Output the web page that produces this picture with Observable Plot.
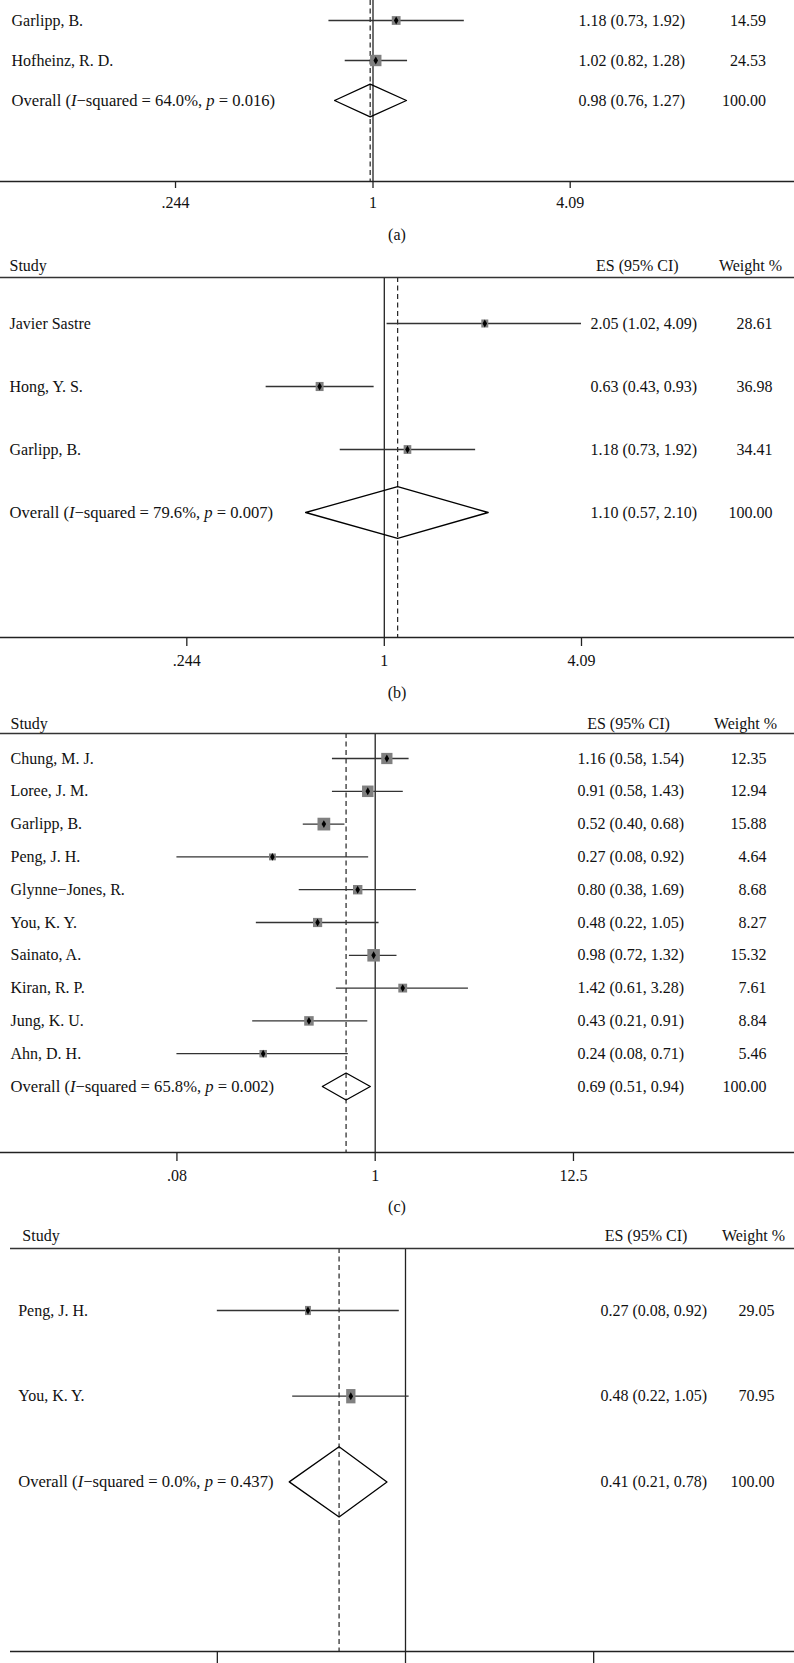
<!DOCTYPE html>
<html><head><meta charset="utf-8">
<script src="https://cdn.jsdelivr.net/npm/d3@7"></script>
<script src="https://cdn.jsdelivr.net/npm/@observablehq/plot@0.6"></script>
<style>
html,body{margin:0;padding:0;overflow:hidden;background:#fff;}
#wrap{position:relative;width:794px;height:1663px;overflow:hidden;background:#fff;}
.panel{position:absolute;left:0;}
.cap{position:absolute;left:0;width:794px;text-align:center;font-family:"Liberation Serif",serif;font-size:16px;line-height:16px;color:#111;}
</style></head><body><div id="wrap"></div>
<script>
// ---------- DATA ----------
// Panel (a) (top part cut off in the reference)
const studiesA = ["Garlipp, B.", "Hofheinz, R. D."];
const esA = [1.18, 1.02];
const lowA = [0.73, 0.82];
const highA = [1.92, 1.28];
const weightA = [14.59, 24.53];
const overallA = {es: 0.98, low: 0.76, high: 1.27, i2: "64.0%", p: "0.016"};

// Panel (b)
const studiesB = ["Javier Sastre", "Hong, Y. S.", "Garlipp, B."];
const esB = [2.05, 0.63, 1.18];
const lowB = [1.02, 0.43, 0.73];
const highB = [4.09, 0.93, 1.92];
const weightB = [28.61, 36.98, 34.41];
const overallB = {es: 1.10, low: 0.57, high: 2.10, i2: "79.6%", p: "0.007"};

// Panel (c)
const studiesC = ["Chung, M. J.", "Loree, J. M.", "Garlipp, B.", "Peng, J. H.", "Glynne\u2212Jones, R.", "You, K. Y.", "Sainato, A.", "Kiran, R. P.", "Jung, K. U.", "Ahn, D. H."];
const esC = [1.16, 0.91, 0.52, 0.27, 0.80, 0.48, 0.98, 1.42, 0.43, 0.24];
const lowC = [0.58, 0.58, 0.40, 0.08, 0.38, 0.22, 0.72, 0.61, 0.21, 0.08];
const highC = [1.54, 1.43, 0.68, 0.92, 1.69, 1.05, 1.32, 3.28, 0.91, 0.71];
const weightC = [12.35, 12.94, 15.88, 4.64, 8.68, 8.27, 15.32, 7.61, 8.84, 5.46];
const overallC = {es: 0.69, low: 0.51, high: 0.94, i2: "65.8%", p: "0.002"};

// Panel (d)
const studiesD = ["Peng, J. H.", "You, K. Y."];
const esD = [0.27, 0.48];
const lowD = [0.08, 0.22];
const highD = [0.92, 1.05];
const weightD = [29.05, 70.95];
const overallD = {es: 0.41, low: 0.21, high: 0.78, i2: "0.0%", p: "0.437"};

// Axis ticks
const ticksAB = [0.244, 1, 4.09];
const tickLabelsAB = [".244", "1", "4.09"];
const ticksCD = [0.08, 1, 12.5];
const tickLabelsCD = [".08", "1", "12.5"];

const headerStudy = "Study", headerES = "ES (95% CI)", headerW = "Weight %";

// ---------- LAYOUT (pixels) ----------
const layouts = [
  {key:"a", top:0, H:250, ml:0, first:20, step:40, lineTop:0, axis:181, header:null, headerLine:null,
   one:372.5, ppl:140, labelX:11, esX:578, wRight:765.6, rmax:11.5, aw:1, ah:1, cap:"(a)", capY:235,
   showTickLabels:true, tickLen:7, tickLabelDy:21,
   ticks:ticksAB, tickLabels:tickLabelsAB, data:[studiesA, esA, lowA, highA, weightA, overallA]},
  {key:"b", top:250, H:440, ml:0, first:73, step:63, lineTop:27, axis:387, header:15, headerLine:27,
   one:383.8, ppl:140, labelX:9, esX:590, wRight:772, hStudy:9, hES:636.8, hW:750, rmax:7.5, aw:0.87, ah:1, cap:"(b)", capY:693,
   showTickLabels:true, tickLen:9, tickLabelDy:23,
   ticks:ticksAB, tickLabels:tickLabelsAB, data:[studiesB, esB, lowB, highB, weightB, overallB]},
  {key:"c", top:705, H:490, ml:0, first:53, step:32.8, lineTop:28, axis:447, header:18, headerLine:28,
   one:374.7, ppl:78.5, labelX:10, esX:577, wRight:766, hStudy:10, hES:628, hW:745, rmax:16, aw:1, ah:1, cap:"(c)", capY:1207,
   showTickLabels:true, tickLen:9, tickLabelDy:23,
   ticks:ticksCD, tickLabels:tickLabelsCD, data:[studiesC, esC, lowC, highC, weightC, overallC]},
  {key:"d", top:1218, H:445, ml:10, first:92, step:85.7, lineTop:30, axis:433, header:17, headerLine:30,
   one:405, ppl:74.5, labelX:17.7, esX:600, wRight:774, hStudy:21.8, hES:645.5, hW:753, rmax:8.5, aw:0.65, ah:1, cap:null,
   showTickLabels:false, tickLen:14, tickLabelDy:23,
   ticks:ticksCD, tickLabels:tickLabelsCD, data:[studiesD, esD, lowD, highD, weightD, overallD]}
];

const FONT = "Liberation Serif";
const fmt = v => v.toFixed(2);

function boxSymbol(aw, ah) {
  return {draw(ctx, size) {
    const r = Math.sqrt(size / Math.PI);
    const w = r * aw, h = r * ah;
    ctx.moveTo(-w, -h); ctx.lineTo(w, -h); ctx.lineTo(w, h); ctx.lineTo(-w, h); ctx.closePath();
  }};
}

function makePanel(L) {
  const [studies, es, low, high, weight, ov] = L.data;
  const rows = studies.map((s, i) => ({study: s, es: es[i], low: low[i], high: high[i], weight: weight[i], i}));
  const oi = rows.length;
  const ovLabel = `Overall (I\u2212squared = ${ov.i2}, p = ${ov.p})`;
  const studyRows = rows.map(d => ({label: d.study, i: d.i}));
  const valueRows = rows.map(d => ({es: `${fmt(d.es)} (${fmt(d.low)}, ${fmt(d.high)})`, w: fmt(d.weight), i: d.i}))
    .concat([{es: `${fmt(ov.es)} (${fmt(ov.low)}, ${fmt(ov.high)})`, w: "100.00", i: oi}]);
  const toRow = px => (px - L.first) / L.step;
  const hh = 0.41;
  const diamond = [
    {x: ov.low, y: oi}, {x: ov.es, y: oi - hh}, {x: ov.high, y: oi}, {x: ov.es, y: oi + hh}, {x: ov.low, y: oi}
  ];
  const tickData = L.ticks.map((v, k) => ({v, label: L.tickLabels[k]}));
  const t0 = L.ticks[0], t2 = L.ticks[L.ticks.length - 1];
  const axisRow = toRow(L.axis);
  const marks = [
    Plot.ruleY([axisRow], {stroke: "#222", strokeWidth: 1.5}),
    Plot.ruleX(tickData, {x: "v", y1: axisRow, y2: toRow(L.axis + L.tickLen), stroke: "#222", strokeWidth: 1.3}),
    Plot.ruleX([1], {y1: toRow(L.lineTop), y2: axisRow, stroke: "#222", strokeWidth: 1.3}),
    Plot.ruleX([ov.es], {y1: toRow(L.lineTop), y2: axisRow, stroke: "#222", strokeWidth: 1.2, strokeDasharray: "5,3.5"}),
    Plot.ruleY(rows, {y: "i", x1: "low", x2: "high", stroke: "#333", strokeWidth: 1.3}),
    Plot.dot(rows, {x: "es", y: "i", r: "weight", symbol: boxSymbol(L.aw, L.ah), fill: "#808080", stroke: "none"}),
    Plot.dot(rows, {x: "es", y: "i", r: 2.4, symbol: "diamond", fill: "#000", stroke: "none"}),
    Plot.line(diamond, {x: "x", y: "y", stroke: "#000", strokeWidth: 1.3}),
    Plot.text(studyRows, {y: "i", text: "label", frameAnchor: "left", dx: L.labelX - L.ml, textAnchor: "start"}),
    Plot.text([ovLabel], {y: oi, text: d => d, frameAnchor: "left", dx: L.labelX - L.ml, textAnchor: "start", fontSize: 16.6}),
    Plot.text(valueRows, {y: "i", text: "es", frameAnchor: "left", dx: L.esX - L.ml, textAnchor: "start"}),
    Plot.text(valueRows, {y: "i", text: "w", frameAnchor: "left", dx: L.wRight - L.ml, textAnchor: "end"})
  ];
  if (L.showTickLabels) {
    marks.push(Plot.text(tickData, {x: "v", y: axisRow, text: "label", dy: L.tickLabelDy, textAnchor: "middle"}));
  }
  if (L.header != null) {
    const hy = toRow(L.header);
    marks.push(
      Plot.ruleY([toRow(L.headerLine)], {stroke: "#333", strokeWidth: 1.6}),
      Plot.text([headerStudy], {y: hy, text: d => d, frameAnchor: "left", dx: L.hStudy - L.ml, textAnchor: "start"}),
      Plot.text([headerES], {y: hy, text: d => d, frameAnchor: "left", dx: L.hES - L.ml, textAnchor: "middle"}),
      Plot.text([headerW], {y: hy, text: d => d, frameAnchor: "left", dx: L.hW - L.ml, textAnchor: "middle"})
    );
  }
  const svg = Plot.plot({
    width: 794, height: L.H,
    marginLeft: L.ml, marginRight: 0, marginTop: 0, marginBottom: 0,
    style: {fontFamily: FONT, fontSize: "16px", color: "#111", background: "none", overflow: "visible"},
    x: {type: "log", domain: [t0, t2], range: [L.one + L.ppl * Math.log(t0), L.one + L.ppl * Math.log(t2)], axis: null},
    y: {domain: [-L.first / L.step, (L.H - L.first) / L.step], range: [0, L.H], axis: null},
    r: {type: "sqrt", domain: [0, 100], range: [0, L.rmax]},
    marks
  });
  // italics for I and p in the overall label
  svg.querySelectorAll("text").forEach(el => {
    const t = el.textContent;
    if (t.startsWith("Overall (I")) {
      const m = t.match(/^Overall \(I(.*), p(.*)$/);
      if (!m) return;
      while (el.firstChild) el.removeChild(el.firstChild);
      const parts = [["Overall (", false], ["I", true], [m[1] + ", ", false], ["p", true], [m[2], false]];
      for (const [s, it] of parts) {
        const ts = document.createElementNS("http://www.w3.org/2000/svg", "tspan");
        ts.textContent = s;
        if (it) ts.setAttribute("font-style", "italic");
        el.appendChild(ts);
      }
    }
  });
  svg.classList.add("panel");
  svg.style.top = L.top + "px";
  svg.style.position = "absolute";
  return svg;
}

const wrap = document.getElementById("wrap");
for (const L of layouts) wrap.appendChild(makePanel(L));
for (const L of layouts) {
  if (!L.cap) continue;
  const c = document.createElement("div");
  c.className = "cap";
  c.style.top = (L.capY - 8) + "px";
  c.textContent = L.cap;
  wrap.appendChild(c);
}
</script></body></html>
